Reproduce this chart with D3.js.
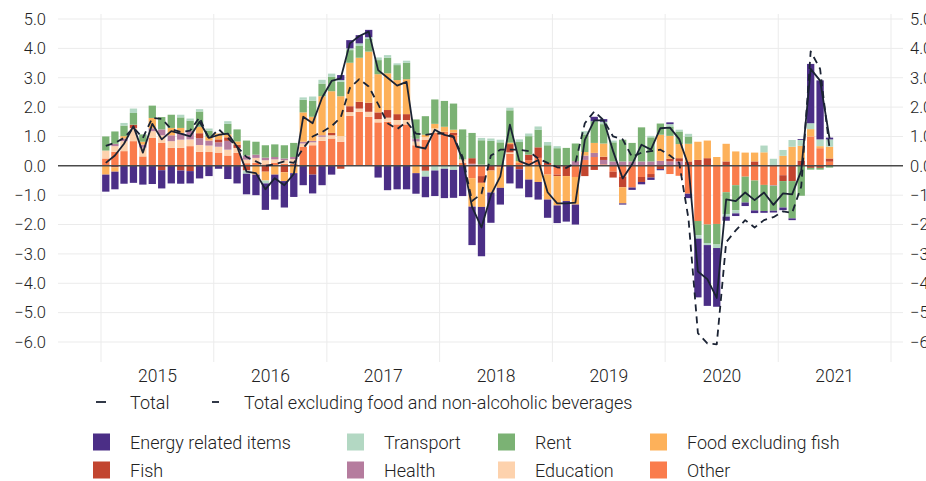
<!DOCTYPE html>
<html>
<head>
<meta charset="utf-8">
<script src="https://cdn.jsdelivr.net/npm/d3@7"></script>
<style>
  body { margin: 0; background: #fff; }
  text { font-family: Roboto, "Noto Sans", sans-serif; font-weight: 300; fill: #222; }
</style>
</head>
<body>
<div id="chart-area"></div>
<script>
// monthly contributions, Jan 2015 - Jun 2021
const months = d3.timeMonths(new Date(2015, 0, 1), new Date(2021, 6, 1));

const other = [0.25, 0.48, 0.5, 0.84, 0.32, 0.95, 0.78, 0.61, 0.61, 0.67, 0.48, 0.47,
  0.45, 0.35, 0.44, 0.09, 0.1, 0.05, 0.1, 0.07, 0.07, 0.65, 0.7, 0.85,
  0.93, 0.82, 1.7, 1.84, 1.67, 1.48, 1.5, 1.41, 1.41, 0.7, 0.88, 1.12,
  1.16, 1.05, 0.1, -0.42, -0.35, 0, -0.05, 0.41, 0.1, 0.19, 0.27, -0.3,
  -0.3, 0, -0.38, 0.2, 0.3, 0.05, -0.2, -0.38, -0.74, -0.38, -0.28, 0,
  -0.28, -0.34, -0.95, -1.88, -2.0, -1.98, -0.9, -0.66, -0.37, -0.5, -0.65, -0.66,
  -0.32, 0, 0, 1.0, 0.6, 0.14];
const education = [0.27, 0.19, 0.34, 0.45, 0.3, 0.23, 0.26, 0.23, 0.28, 0.23, 0.23, 0.22,
  0.2, 0.2, 0.17, 0.12, 0.17, 0.14, 0.12, 0.12, 0.16, 0.11, 0.1, 0.14,
  0.11, 0.19, 0.13, 0.11, 0.17, 0.11, 0.14, 0.15, 0.15, 0.13, 0.1, 0.15,
  0, 0, 0.12, 0.04, 0.04, 0, 0, 0.05, 0, 0, 0, 0.03,
  0, 0, 0, 0, 0, 0, 0, 0, 0, 0, 0, 0,
  0, 0, 0, 0, 0, 0, 0, 0, 0, 0, 0, 0,
  0, 0, 0, 0, 0, 0];
const health = [0, 0.08, 0.09, 0, 0.1, 0.1, 0.2, 0.2, 0.23, 0.3, 0.23, 0.17,
  0.15, 0.3, 0, 0.14, 0.11, 0.09, 0.08, 0.06, 0.07, 0.06, 0.05, 0.05,
  0, 0, 0, 0, 0, 0, 0, 0, 0, 0.09, 0, 0,
  0, 0, 0, 0.03, 0, 0, 0, 0, 0, 0, 0, 0,
  0, 0, 0.16, 0.15, 0.14, 0.15, 0.15, 0.15, 0.15, 0.15, 0.15, 0.17,
  0.15, 0.15, 0, 0, 0, 0, 0, 0, 0, 0, 0, -0.02,
  0, 0, 0, 0, 0, 0];
const fish = [0, -0.05, 0, 0.11, 0, 0, -0.15, 0, -0.16, -0.18, 0.17, 0,
  0.1, 0.12, 0.11, -0.16, 0, -0.2, 0, -0.22, 0, 0, -0.3, 0,
  0.08, -0.1, 0.2, 0.23, 0.31, 0.23, 0.26, 0.2, 0.2, 0, -0.17, 0,
  0, 0.08, 0, 0.19, -0.23, -0.16, 0, 0.28, -0.12, 0.19, 0.36, 0.07,
  -0.05, -0.35, 0, -0.35, -0.14, 0.11, -0.2, -0.35, 0, -0.17, -0.12, -0.11,
  0.09, 0.11, 0.15, 0.2, 0.26, 0, 0.15, 0, 0, 0.15, 0, 0,
  -0.2, -0.52, 0.18, -0.07, -0.07, 0.11];
const food = [-0.3, -0.15, 0.08, 0, 0.1, 0.35, 0, 0.25, 0.17, 0, 0.22, 0.13,
  0.2, 0.1, 0.11, 0, -0.3, -0.3, -0.3, -0.3, -0.25, 1.0, 0.82, 1.33,
  1.42, 1.36, 1.48, 1.5, 1.74, 1.3, 1.25, 1.16, 1.19, -0.25, 0.08, 0.16,
  0.17, 0.1, 0, -0.97, -0.82, -0.75, -0.7, 0.05, 0.06, -0.47, -0.55, -0.85,
  -1.0, -0.85, -0.94, 0.12, 0.34, 0.45, 0, -0.55, 0, 0, 0, 0.89,
  0.78, 0.48, 0.6, 0.62, 0.6, 0.3, 0.6, 0.49, 0.45, 0.3, 0.46, 0,
  0.34, 0.65, 0.5, 0.25, 0.07, 0.4];
const rent = [0.48, 0.42, 0.36, 0.4, 0.25, 0.42, 0.42, 0.45, 0.36, 0.34, 0.52, 0.2,
  0, 0.36, 0.41, 0.51, 0.44, 0.42, 0.43, 0.45, 0.48, 0.43, 0.55, 0.43,
  0.49, 0.49, 0.43, 0.4, 0.43, 0.48, 0.53, 0.51, 0.56, 0.66, 0.63, 0.83,
  0.88, 0.89, 1.02, 0.86, 0.83, 0.85, 0.8, 1.1, 0.65, 0.63, 0.6, 0.6,
  0.6, 0.61, 0.6, 0.6, 0.74, 0.66, 0.65, 0.74, 0.63, 1.16, 0.82, 0.38,
  0.32, 0.43, 0.25, -0.48, -0.63, -0.7, -0.74, -0.85, -0.88, -1.02, -0.89, -0.85,
  -0.9, -1.27, -1.02, -0.06, -0.06, -0.06];
const transport = [0, 0, 0.09, 0.15, 0, 0, 0, 0, 0.09, 0.07, 0.08, 0.08,
  0, 0.09, 0, -0.11, 0, -0.1, 0, 0, 0, 0.08, 0.14, 0.13,
  0.11, 0.06, 0.06, 0.09, 0.06, 0.09, 0.09, 0.06, 0.07, 0, -0.2, -0.16,
  -0.1, -0.14, 0, 0, 0.08, 0.08, 0.09, 0.09, 0.09, 0.09, 0.11, 0.11,
  0.07, 0, 0, 0.11, 0, 0.08, 0.06, 0, 0, 0, 0.05, 0,
  0.08, 0.06, 0.09, -0.12, -0.07, -0.12, -0.09, -0.11, 0, 0, 0.23, 0.24,
  0.2, 0.23, 0.2, 0.2, 0.23, 0.25];
const energy = [-0.58, -0.6, -0.61, -0.58, -0.64, -0.62, -0.62, -0.6, -0.45, -0.42, -0.43, -0.35,
  -0.1, -0.45, -0.6, -0.7, -0.7, -0.9, -0.85, -0.9, -0.81, -0.66, -0.64, -0.66,
  -0.3, 0.17, 0.28, 0.28, 0.25, -0.4, -0.83, -0.8, -0.8, -0.7, -0.7, -0.87,
  -1.0, -0.95, -1.03, -1.31, -1.68, -1.03, -0.57, -0.6, -0.65, -0.6, -0.6, -0.62,
  -0.6, -0.7, -0.68, 0, 0.15, 0.09, 0, -0.04, -0.08, -0.08, -0.08, -0.04,
  0.06, 0, -0.15, -2.0, -2.07, -2.0, -0.14, -0.09, -0.12, -0.09, -0.06, -0.06,
  -0.09, -0.06, 0.03, 2.02, 2.01, 0.06];

const total = [0.1, 0.35, 0.75, 1.35, 0.45, 1.43, 0.9, 1.18, 1.1, 1.0, 1.5, 0.95,
  1.05, 1.1, 0.65, -0.2, -0.25, -0.8, -0.42, -0.66, -0.28, 1.67, 1.45, 2.32,
  2.89, 2.98, 4.17, 4.42, 4.57, 3.26, 3.0, 2.73, 2.86, 0.65, 0.59, 1.23,
  1.05, 0.98, 0.2, -1.4, -2.1, -1.0, -0.36, 1.4, 0.16, 0.03, 0.2, -0.9,
  -1.28, -1.28, -1.25, 0.88, 1.55, 1.55, 0.5, -0.43, 0.05, 0.72, 0.55, 1.28,
  1.3, 0.91, 0.0, -3.6, -3.86, -4.5, -1.14, -1.2, -0.91, -1.17, -0.91, -1.33,
  -0.94, -0.97, -0.17, 3.3, 2.9, 0.93];
const totalExFood = [0.68, 0.78, 0.95, 1.3, 0.95, 1.63, 1.6, 1.25, 1.15, 1.2, 1.65, 0.9,
  1.25, 0.95, 0.65, 0.3, 0.15, 0.0, 0.05, 0.15, 0.1, 0.6, 1.0, 1.15,
  1.35, 1.65, 2.65, 2.95, 2.7, 2.1, 1.45, 1.25, 1.5, 1.1, 1.05, 1.1,
  1.1, 1.0, 0.3, -1.2, -0.95, 0.35, 0.55, 0.55, 0.55, 0.5, 0.25, 0.1,
  -0.05, -0.07, 0.1, 1.45, 1.85, 1.55, 1.0, 0.9, 0.3, 0.45, 0.5, 0.55,
  0.35, 0.1, -1.8, -5.7, -6.05, -6.08, -2.6, -2.2, -1.85, -2.1, -1.85, -1.75,
  -1.55, -1.6, -0.7, 3.9, 3.3, 0.6];

// stack order bottom-up; legend is listed in reverse
const seriesKeys = ["other", "education", "health", "fish", "food", "rent", "transport", "energy"];
const seriesNames = ["Other", "Education", "Health", "Fish", "Food excluding fish", "Rent", "Transport", "Energy related items"];
const seriesColors = ["#fa7c4c", "#fdd2ad", "#b57c9e", "#c2452f", "#fdb15a", "#7bb274", "#b3d8c3", "#4b2e86"];
const seriesValues = [other, education, health, fish, food, rent, transport, energy];

const yTicks = d3.range(-6, 6);
const years = d3.range(2015, 2022);

const WIDTH = 926, HEIGHT = 481;
const LINE_COLOR = "#1b2334";
const GRID_COLOR = "#ebebeb";

let plotLeft = 101, plotRight = 891, plotTop = 19, plotBottom = 342;
let gridLeft = 58, gridRight = 903;

const svg = d3.select("#chart-area").append("svg")
    .attr("width", WIDTH)
    .attr("height", HEIGHT);

const x = d3.scaleTime()
    .domain([new Date(2015, 0, 1), new Date(2022, 0, 1)])
    .range([plotLeft, plotRight]);
const y = d3.scaleLinear()
    .domain([-6, 5])
    .range([plotBottom, plotTop]);

const monthCenter = d => (x(d) + x(d3.timeMonth.offset(d, 1))) / 2;
const barWidth = 7.3;

// rows for the stack
const rows = months.map((m, i) => {
    let row = {date: m};
    seriesKeys.forEach((k, j) => row[k] = seriesValues[j][i]);
    return row;
});

// grid
svg.append("g").selectAll("line")
    .data(yTicks.filter(t => t !== 0))
    .join("line")
    .attr("x1", gridLeft).attr("x2", gridRight)
    .attr("y1", d => y(d)).attr("y2", d => y(d))
    .attr("stroke", GRID_COLOR).attr("stroke-width", 1);

svg.append("g").selectAll("line")
    .data(d3.range(2015, 2023))
    .join("line")
    .attr("x1", d => x(new Date(d, 0, 1))).attr("x2", d => x(new Date(d, 0, 1)))
    .attr("y1", 14).attr("y2", 362)
    .attr("stroke", GRID_COLOR).attr("stroke-width", 1);

// bars
const stacked = d3.stack()
    .keys(seriesKeys)
    .offset(d3.stackOffsetDiverging)(rows);

svg.append("g").selectAll("g")
    .data(stacked)
    .join("g")
    .attr("fill", (d, i) => seriesColors[i])
    .selectAll("rect")
    .data(d => d.filter(p => p[1] - p[0] !== 0))
    .join("rect")
    .attr("x", p => monthCenter(p.data.date) - barWidth / 2)
    .attr("width", barWidth)
    .attr("y", p => y(Math.max(p[0], p[1])))
    .attr("height", p => Math.abs(y(p[0]) - y(p[1])));

// zero line
svg.append("line")
    .attr("x1", gridLeft).attr("x2", gridRight)
    .attr("y1", y(0)).attr("y2", y(0))
    .attr("stroke", "#4a4a4a").attr("stroke-width", 1.5);

// lines
function drawLine(values, dashed) {
    const line = d3.line()
        .x((v, i) => monthCenter(months[i]))
        .y(v => y(v));
    let path = svg.append("path")
        .datum(values)
        .attr("d", line)
        .attr("fill", "none")
        .attr("stroke", LINE_COLOR)
        .attr("stroke-width", 1.8)
        .attr("stroke-linejoin", "round");
    if (dashed) path.attr("stroke-dasharray", "7,5");
}
drawLine(totalExFood, true);
drawLine(total, false);

// axes
const fmt = d3.format(".1f");
const leftAxis = svg.append("g")
    .attr("transform", `translate(${gridLeft},0)`)
    .call(d3.axisLeft(y).tickValues(yTicks).tickFormat(fmt).tickSize(0).tickPadding(12));
// right-hand labels run off the page edge, as in the original
const rightAxis = svg.append("g")
    .attr("transform", `translate(${gridRight},0)`)
    .call(d3.axisRight(y).tickValues(yTicks).tickFormat(fmt).tickSize(0).tickPadding(7));
const bottomAxis = svg.append("g")
    .attr("transform", "translate(0,362)")
    .call(d3.axisBottom(x).tickValues(years.map(yr => new Date(yr, 6, 1)))
        .tickFormat(d3.timeFormat("%Y")).tickSize(0).tickPadding(8));

[leftAxis, rightAxis, bottomAxis].forEach(a => {
    a.select(".domain").remove();
    a.selectAll("text")
        .attr("font-family", "Roboto, sans-serif")
        .attr("font-weight", 300)
        .attr("fill", "#222");
});
leftAxis.selectAll("text").attr("font-size", "16.5px");
rightAxis.selectAll("text").attr("font-size", "16.5px");
bottomAxis.selectAll("text").attr("font-size", "17.5px");

// legend
function addLabel(label, lx, ly) {
    return svg.append("text")
        .attr("x", lx)
        .attr("y", ly)
        .attr("font-size", "18px")
        .attr("dominant-baseline", "central")
        .text(label);
}

svg.append("line")
    .attr("x1", 96).attr("x2", 106).attr("y1", 402).attr("y2", 402)
    .attr("stroke", LINE_COLOR).attr("stroke-width", 1.8);
addLabel("Total", 130, 402);
svg.append("line")
    .attr("x1", 212).attr("x2", 219).attr("y1", 402).attr("y2", 402)
    .attr("stroke", LINE_COLOR).attr("stroke-width", 1.8);
addLabel("Total excluding food and non-alcoholic beverages", 244, 402);

const legendCols = [93, 347, 498, 650];
const legendRows = [442, 470];
const legendOrder = seriesKeys.map((k, i) => i).reverse();
legendOrder.forEach((si, n) => {
    let lx = legendCols[n % 4], ly = legendRows[Math.floor(n / 4)];
    svg.append("rect")
        .attr("x", lx).attr("y", ly - 8.5)
        .attr("width", 17).attr("height", 17)
        .attr("fill", seriesColors[si]);
    addLabel(seriesNames[si], lx + 37, ly);
});
</script>
</body>
</html>
